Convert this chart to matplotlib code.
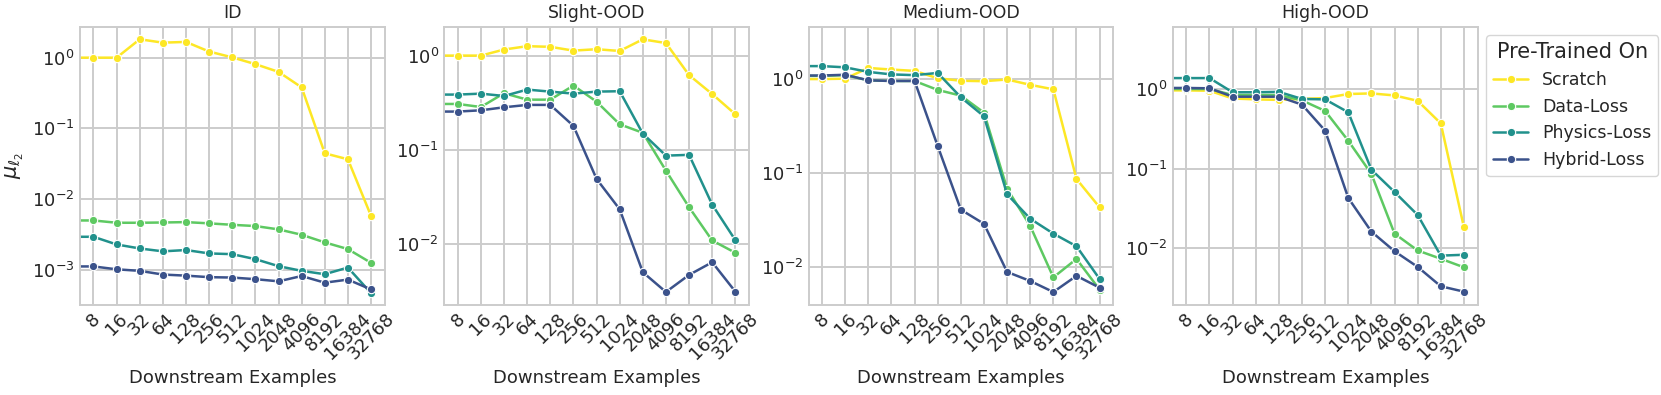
import numpy as np
import matplotlib
matplotlib.use("Agg")
import matplotlib.pyplot as plt
import seaborn as sns

# downstream examples; 0 = zero-shot point, falls off the left edge on a log axis
examples = [0, 8, 16, 32, 64, 128, 256, 512, 1024, 2048, 4096, 8192, 16384, 32768]
tick_examples = examples[1:]
panels = ["ID", "Slight-OOD", "Medium-OOD", "High-OOD"]
methods = ["Scratch", "Data-Loss", "Physics-Loss", "Hybrid-Loss"]

# ID
id_scratch = [1.0, 1.0, 1.0, 1.82, 1.63, 1.67, 1.22, 1.01, 0.81, 0.63, 0.38, 0.0445, 0.0366, 0.0058]
id_data = [0.0050, 0.0050, 0.00464, 0.00464, 0.00468, 0.00474, 0.00455, 0.00434, 0.00417, 0.00374, 0.00314, 0.00245, 0.00197, 0.00126]
id_physics = [0.00294, 0.00294, 0.00229, 0.00201, 0.00183, 0.00191, 0.00171, 0.00167, 0.00142, 0.00113, 0.00097, 0.00087, 0.00108, 0.00047]
id_hybrid = [0.00112, 0.00112, 0.00102, 0.00097, 0.00086, 0.00083, 0.00079, 0.00078, 0.00074, 0.00069, 0.00082, 0.00066, 0.00073, 0.00053]

# Slight-OOD
slight_scratch = [1.0, 1.0, 1.0, 1.16, 1.26, 1.24, 1.13, 1.17, 1.12, 1.49, 1.36, 0.62, 0.39, 0.238]
slight_data = [0.306, 0.306, 0.284, 0.398, 0.34, 0.34, 0.48, 0.324, 0.186, 0.151, 0.0598, 0.0244, 0.0108, 0.0080]
slight_physics = [0.385, 0.385, 0.394, 0.372, 0.435, 0.414, 0.394, 0.414, 0.418, 0.148, 0.0863, 0.088, 0.026, 0.0109]
slight_hybrid = [0.254, 0.254, 0.262, 0.282, 0.299, 0.299, 0.179, 0.0488, 0.0232, 0.00497, 0.00306, 0.00465, 0.00634, 0.00309]

# Medium-OOD
medium_scratch = [0.99, 0.99, 1.0, 1.30, 1.25, 1.21, 1.01, 0.95, 0.94, 0.98, 0.86, 0.77, 0.0857, 0.0428]
medium_data = [1.07, 1.07, 1.09, 0.96, 0.945, 0.945, 0.759, 0.66, 0.435, 0.0676, 0.0271, 0.0077, 0.0121, 0.0057]
medium_physics = [1.36, 1.36, 1.32, 1.18, 1.11, 1.09, 1.15, 0.634, 0.398, 0.0589, 0.0324, 0.0225, 0.0165, 0.0074]
medium_hybrid = [1.08, 1.08, 1.10, 0.96, 0.945, 0.945, 0.192, 0.0404, 0.0286, 0.0088, 0.00705, 0.00538, 0.0080, 0.00598]

# High-OOD
high_scratch = [0.96, 0.96, 0.95, 0.76, 0.74, 0.73, 0.75, 0.77, 0.865, 0.88, 0.83, 0.71, 0.37, 0.0184]
high_data = [1.0, 1.0, 1.0, 0.84, 0.84, 0.84, 0.72, 0.53, 0.224, 0.0858, 0.0153, 0.0094, 0.0074, 0.00578]
high_physics = [1.37, 1.37, 1.37, 0.91, 0.91, 0.92, 0.75, 0.74, 0.51, 0.097, 0.051, 0.0262, 0.0081, 0.0083]
high_hybrid = [1.03, 1.03, 1.02, 0.80, 0.80, 0.80, 0.636, 0.30, 0.0429, 0.0162, 0.0092, 0.00585, 0.00334, 0.00286]

panel_data = [
    [id_scratch, id_data, id_physics, id_hybrid],
    [slight_scratch, slight_data, slight_physics, slight_hybrid],
    [medium_scratch, medium_data, medium_physics, medium_hybrid],
    [high_scratch, high_data, high_physics, high_hybrid],
]
ylims = [(3.24e-4, 2.74), (2.25e-3, 2.03), (3.96e-3, 3.57), (1.97e-3, 6.05)]

colors = ["#fde725", "#5ec962", "#21918c", "#3b528b"]

sns.set_theme(style="whitegrid")
plt.rcParams.update({
    "axes.edgecolor": "#cccccc",
    "grid.color": "#cccccc",
    "axes.linewidth": 1.4,
    "grid.linewidth": 1.4,
    "text.color": "#262626",
    "axes.labelcolor": "#262626",
    "xtick.color": "#262626",
    "ytick.color": "#262626",
})

fig, axes = plt.subplots(1, 4, figsize=(16.61, 3.95), dpi=100)
fig.subplots_adjust(left=0.0482, right=0.8897, bottom=0.229, top=0.9324, wspace=0.195)

for ax, name, series, ylim in zip(axes, panels, panel_data, ylims):
    for label, vals, c in zip(methods, series, colors):
        ax.plot(examples, vals, color=c, lw=1.8, marker="o", ms=6,
                mec="white", mew=0.8, label=label)
    ax.set_xscale("log", base=2)
    ax.set_yscale("log")
    ax.set_xlim(8 / 2 ** 0.58, 32768 * 2 ** 0.6)
    ax.set_ylim(*ylim)
    ax.set_xticks(tick_examples)
    ax.set_xticklabels([str(v) for v in tick_examples], rotation=45, fontsize=13)
    ax.xaxis.set_minor_locator(matplotlib.ticker.NullLocator())
    ax.yaxis.set_minor_locator(matplotlib.ticker.NullLocator())
    ax.tick_params(axis="y", labelsize=13)
    ax.tick_params(length=0, pad=4)
    ax.set_title(name, fontsize=12.5, pad=6)
    ax.set_xlabel("Downstream Examples", fontsize=13)

axes[0].set_ylabel(r"$\mu_{\ell_2}$", fontsize=15)

leg = axes[3].legend(title="Pre-Trained On", loc="upper left", bbox_to_anchor=(1.0, 1.0),
                     fontsize=12.5, title_fontsize=15, frameon=True)
leg.get_frame().set_edgecolor("#cccccc")

fig.savefig("out.png", dpi=100)
